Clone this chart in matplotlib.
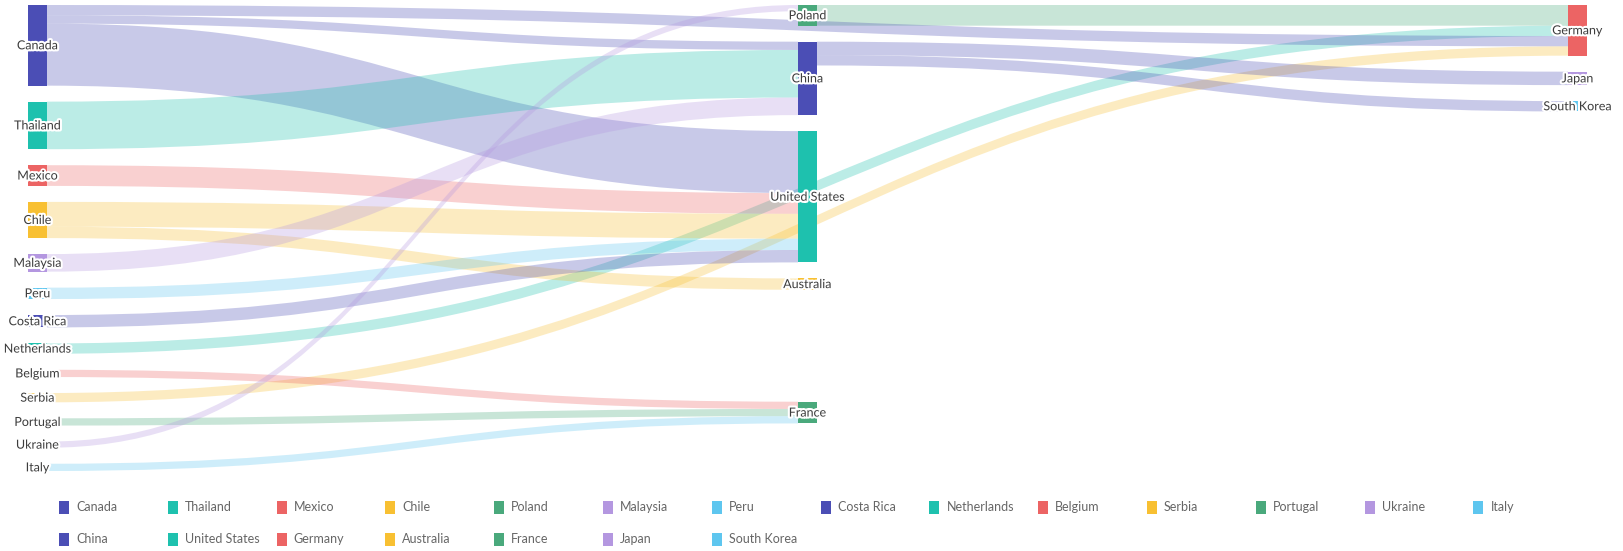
import matplotlib
matplotlib.use("Agg")
import matplotlib.pyplot as plt
from matplotlib.path import Path
from matplotlib.patches import PathPatch, Rectangle
import matplotlib.patheffects as pe

## sankey of country flows, nodes in legend order
names = ["Canada", "Thailand", "Mexico", "Chile", "Poland", "Malaysia", "Peru",
         "Costa Rica", "Netherlands", "Belgium", "Serbia", "Portugal", "Ukraine", "Italy",
         "China", "United States", "Germany", "Australia", "France", "Japan", "South Korea"]

link_source = ["Poland", "Netherlands", "Canada", "Canada", "Canada", "Serbia", "Thailand",
               "Mexico", "Chile", "Chile", "Malaysia", "Peru", "Costa Rica", "Belgium",
               "Portugal", "Ukraine", "Italy", "China", "China"]
link_target = ["Germany", "Germany", "Germany", "China", "United States", "Germany", "China",
               "United States", "United States", "Australia", "China", "United States",
               "United States", "France", "France", "Poland", "France", "Japan", "South Korea"]
link_value = [20, 10, 10, 8, 60, 9, 46, 20, 24, 11, 17, 11, 12, 7, 7, 6, 7, 13, 10]

palette = ["#4b4eb5", "#1ec1ae", "#ec6464", "#f8c032", "#4aa97c", "#b497e0", "#5ec6ef"]

W, H = 1623, 551
left, right, top, height = 28, 1587, 5, 466
node_w, node_gap = 19, 16
link_alpha = 0.3

## LAYOUT

def node_depths():
    depth = {n: 0 for n in names}
    changed = True
    while changed:
        changed = False
        for s, t in zip(link_source, link_target):
            if depth[t] < depth[s] + 1:
                depth[t] = depth[s] + 1
                changed = True
    return depth

def node_values():
    vin = {n: 0 for n in names}
    vout = {n: 0 for n in names}
    for s, t, v in zip(link_source, link_target, link_value):
        vout[s] += v
        vin[t] += v
    return {n: max(vin[n], vout[n]) for n in names}

def edge_offsets(y0, ky):
    sy, ty = [], []
    out_pos = dict(y0)
    in_pos = dict(y0)
    for s, t, v in zip(link_source, link_target, link_value):
        sy.append(out_pos[s])
        ty.append(in_pos[t])
        out_pos[s] += v * ky
        in_pos[t] += v * ky
    return sy, ty

def resolve(layer, y0, dy):
    y = top
    for n in layer:
        if y0[n] < y:
            y0[n] = y
        y = y0[n] + dy[n] + node_gap
    over = y - node_gap - (top + height)
    if over > 0:
        for n in layer:
            y0[n] -= over

depth = node_depths()
value = node_values()
max_depth = max(depth.values())
layers = [[n for n in names if depth[n] == d] for d in range(max_depth + 1)]
ky = min((height - (len(l) - 1) * node_gap) / sum(value[n] for n in l) for l in layers)
dy = {n: value[n] * ky for n in names}
xpos = {n: left + depth[n] * (right - left - node_w) / max_depth for n in names}

y0 = {}
for layer in layers:
    y = top
    for n in layer:
        y0[n] = y
        y += dy[n] + node_gap

# sinks of the inner layers drift toward their sources
for layer in layers[1:-1]:
    sy, ty = edge_offsets(y0, ky)
    for n in layer:
        if n in link_source:
            continue
        wsum = sum(v for t, v in zip(link_target, link_value) if t == n)
        c_src = sum((s_ + v * ky / 2) * v for s_, t, v in zip(sy, link_target, link_value) if t == n) / wsum
        c = y0[n] + dy[n] / 2
        if c_src > c:
            y0[n] += (c_src - c) * 0.92
    resolve(layer, y0, dy)

sy, ty = edge_offsets(y0, ky)

## PLOTTING

plt.rcParams['font.family'] = ['Lato', 'DejaVu Sans']
fig = plt.figure(figsize=(W / 100, H / 100), dpi=100)
ax = fig.add_axes([0, 0, 1, 1])
ax.set_xlim(0, W)
ax.set_ylim(H, 0)
ax.axis('off')

color = {n: palette[i % len(palette)] for i, n in enumerate(names)}

for s, t, v, a, b in zip(link_source, link_target, link_value, sy, ty):
    w = v * ky
    x0 = xpos[s] + node_w
    x1 = xpos[t]
    xm = (x0 + x1) / 2
    verts = [(x0, a), (xm, a), (xm, b), (x1, b), (x1, b + w),
             (xm, b + w), (xm, a + w), (x0, a + w), (x0, a)]
    codes = [Path.MOVETO, Path.CURVE4, Path.CURVE4, Path.CURVE4, Path.LINETO,
             Path.CURVE4, Path.CURVE4, Path.CURVE4, Path.CLOSEPOLY]
    ax.add_patch(PathPatch(Path(verts, codes), facecolor=color[s], edgecolor='none',
                           alpha=link_alpha))

for n in names:
    ax.add_patch(Rectangle((xpos[n], y0[n]), node_w, dy[n], facecolor=color[n], edgecolor='none'))

halo = [pe.withStroke(linewidth=3, foreground='white')]
for n in names:
    ax.text(xpos[n] + node_w / 2, y0[n] + dy[n] / 2, n, ha='center', va='center',
            fontsize=9, color='#3c3c3c', path_effects=halo)

# legend, two rows of fixed-width items
per_row, step, lx, ly, row_h = 14, 108.8, 59, 507, 32
for i, n in enumerate(names):
    x = lx + (i % per_row) * step
    y = ly + (i // per_row) * row_h
    ax.add_patch(Rectangle((x, y - 6.5), 10, 13, facecolor=color[n], edgecolor='none'))
    ax.text(x + 17, y, n, ha='left', va='center', fontsize=9, color='#666666')

fig.savefig('out.png', dpi=100)
